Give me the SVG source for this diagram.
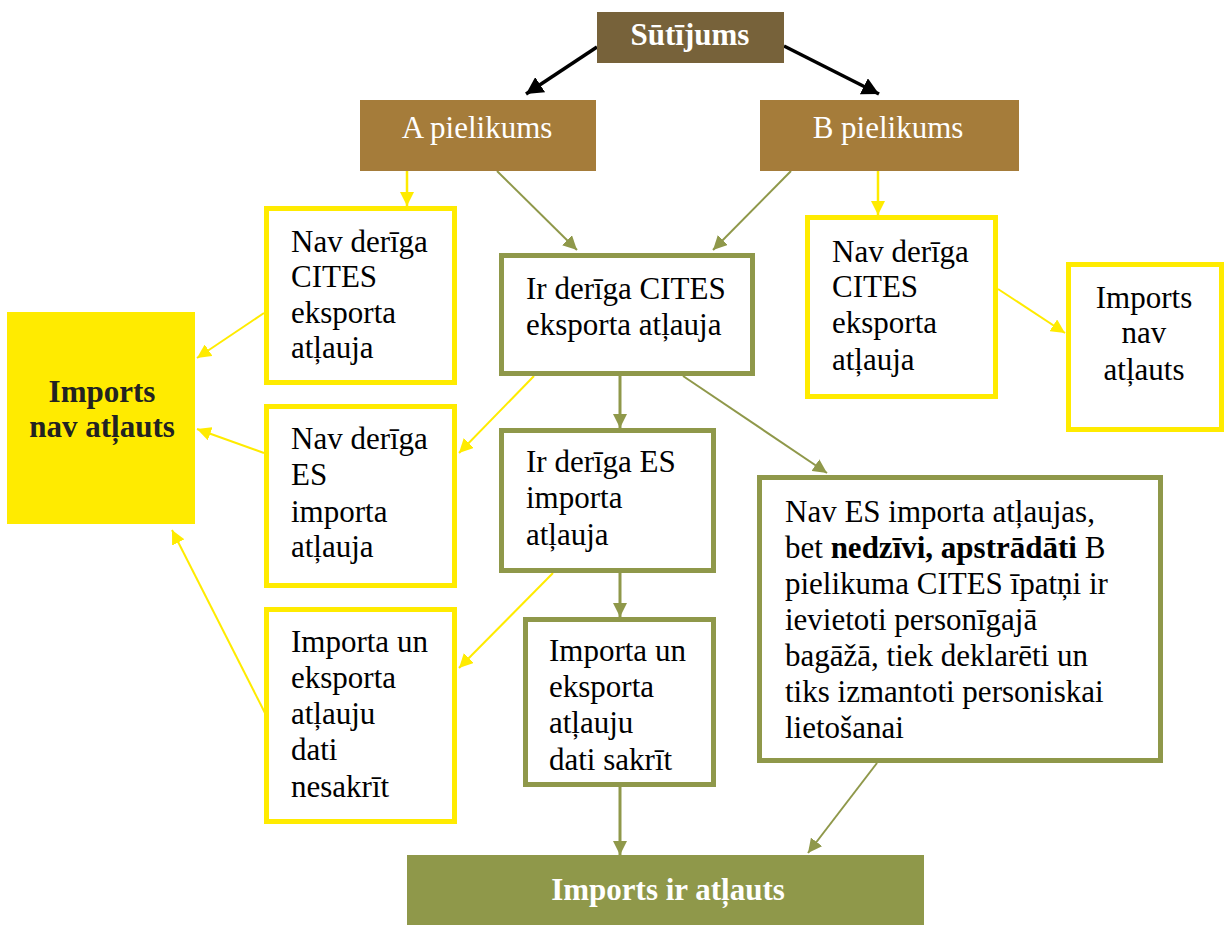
<svg xmlns="http://www.w3.org/2000/svg" width="1225" height="925" viewBox="0 0 1225 925">
<style>
text{font-family:"Liberation Serif","Times New Roman",serif;font-size:31px;fill:#000}
.w{fill:#fff}
.b{font-weight:bold}
.c{text-anchor:middle}
.yb{fill:#fff;stroke:#FFEB00;stroke-width:5}
.ob{fill:#fff;stroke:#8F984A;stroke-width:5}
.yl{stroke:#FFEB00;stroke-width:2;fill:none;marker-end:url(#ay)}
.ol{stroke:#8F984A;stroke-width:2;fill:none;marker-end:url(#ao)}
.ol3{stroke:#8F984A;stroke-width:3;fill:none;marker-end:url(#ao)}
.bl{stroke:#000;stroke-width:3.5;fill:none;marker-end:url(#ab)}
</style>
<defs>
<marker id="ay" markerWidth="16" markerHeight="14" refX="14" refY="7" orient="auto" markerUnits="userSpaceOnUse"><path d="M0,0 L14,7 L0,14 z" fill="#FFEB00"/></marker>
<marker id="ao" markerWidth="16" markerHeight="14" refX="14" refY="7" orient="auto" markerUnits="userSpaceOnUse"><path d="M0,0 L14,7 L0,14 z" fill="#8F984A"/></marker>
<marker id="ab" markerWidth="18" markerHeight="18" refX="17" refY="9" orient="auto" markerUnits="userSpaceOnUse"><path d="M0,0 L17,9 L0,18 z" fill="#000"/></marker>
<clipPath id="clipS"><rect x="523" y="617" width="193" height="153"/></clipPath>
</defs>

<g id="connectors">
<line class="bl" x1="597" y1="47" x2="526" y2="94"/>
<line class="bl" x1="784" y1="46" x2="879" y2="94"/>
<line class="yl" x1="407" y1="171" x2="407" y2="206" style="stroke-width:2.5"/>
<line class="ol" x1="497" y1="171" x2="577" y2="250"/>
<line class="ol" x1="791" y1="171" x2="713" y2="250"/>
<line class="yl" x1="878" y1="171" x2="878" y2="215" style="stroke-width:2.5"/>
<line class="yl" x1="264" y1="313" x2="197" y2="358"/>
<line class="yl" x1="264" y1="453" x2="197" y2="429"/>
<line class="yl" x1="265" y1="713" x2="172" y2="530"/>
<line class="yl" x1="998" y1="289" x2="1065" y2="333"/>
<line class="yl" x1="534" y1="376" x2="459" y2="453"/>
<line class="ol3" x1="620" y1="376" x2="620" y2="428"/>
<line class="ol" x1="683" y1="376" x2="827" y2="473"/>
<line class="yl" x1="553" y1="573" x2="459" y2="668"/>
<line class="ol3" x1="620" y1="573" x2="620" y2="617"/>
<line class="ol3" x1="620" y1="787" x2="620" y2="855"/>
<line class="ol" x1="877" y1="763" x2="808" y2="853"/>
</g>

<g id="sutijums">
<rect x="597" y="12" width="187" height="51" fill="#77623A"/>
<text class="w b c" x="690" y="45">Sūtījums</text>
</g>

<g id="a-pielikums">
<rect x="360" y="100" width="236" height="71" fill="#A57C3A"/>
<text class="w c" x="477" y="138">A pielikums</text>
</g>

<g id="b-pielikums">
<rect x="760" y="100" width="259" height="71" fill="#A57C3A"/>
<text class="w c" x="888" y="138">B pielikums</text>
</g>

<g id="imports-nav-left">
<rect x="7" y="312" width="188" height="212" fill="#FFEB00"/>
<text class="b c" x="102" y="402" style="fill:#222">Imports</text>
<text class="b c" x="102" y="437" style="fill:#222">nav atļauts</text>
</g>

<g id="a-nav-cites">
<rect class="yb" x="266.5" y="208.5" width="188" height="174"/>
<text x="291" y="252">Nav derīga</text>
<text x="291" y="287">CITES</text>
<text x="291" y="323">eksporta</text>
<text x="291" y="358">atļauja</text>
</g>

<g id="nav-es">
<rect class="yb" x="266.5" y="406.5" width="188" height="179"/>
<text x="291" y="449">Nav derīga</text>
<text x="291" y="485">ES</text>
<text x="291" y="522">importa</text>
<text x="291" y="557">atļauja</text>
</g>

<g id="nesakrit">
<rect class="yb" x="266.5" y="609.5" width="188" height="212"/>
<text x="291" y="652">Importa un</text>
<text x="291" y="688">eksporta</text>
<text x="291" y="724">atļauju</text>
<text x="291" y="760">dati</text>
<text x="291" y="797">nesakrīt</text>
</g>

<g id="ir-cites">
<rect class="ob" x="501.5" y="255.5" width="251" height="118"/>
<text x="526" y="299">Ir derīga CITES</text>
<text x="526" y="335">eksporta atļauja</text>
</g>

<g id="ir-es">
<rect class="ob" x="501.5" y="430.5" width="212" height="140"/>
<text x="526" y="472">Ir derīga ES</text>
<text x="526" y="508">importa</text>
<text x="526" y="545">atļauja</text>
</g>

<g id="sakrit">
<rect class="ob" x="525.5" y="619.5" width="188" height="165"/>
<text x="549" y="661">Importa un</text>
<text x="549" y="697">eksporta</text>
<text x="549" y="733">atļauju</text>
<text x="549" y="770" clip-path="url(#clipS)">dati sakrīt</text>
</g>

<g id="b-nav-cites">
<rect class="yb" x="807.5" y="217.5" width="188" height="179"/>
<text x="832" y="262">Nav derīga</text>
<text x="832" y="297">CITES</text>
<text x="832" y="333">eksporta</text>
<text x="832" y="370">atļauja</text>
</g>

<g id="imports-nav-right">
<rect class="yb" x="1068.5" y="264.5" width="153" height="165"/>
<text class="c" x="1144" y="308">Imports</text>
<text class="c" x="1144" y="343">nav</text>
<text class="c" x="1144" y="380">atļauts</text>
</g>

<g id="nav-es-atlaujas">
<rect class="ob" x="759.5" y="477.5" width="401" height="283"/>
<text x="785" y="522">Nav ES importa atļaujas,</text>
<text x="785" y="558">bet <tspan class="b">nedzīvi, apstrādāti</tspan> B</text>
<text x="785" y="594">pielikuma CITES īpatņi ir</text>
<text x="785" y="630">ievietoti personīgajā</text>
<text x="785" y="666">bagāžā, tiek deklarēti un</text>
<text x="785" y="702">tiks izmantoti personiskai</text>
<text x="785" y="738">lietošanai</text>
</g>

<g id="imports-ir">
<rect x="407" y="855" width="517" height="70" fill="#8F984A"/>
<text class="w b c" x="668" y="900">Imports ir atļauts</text>
</g>
</svg>
